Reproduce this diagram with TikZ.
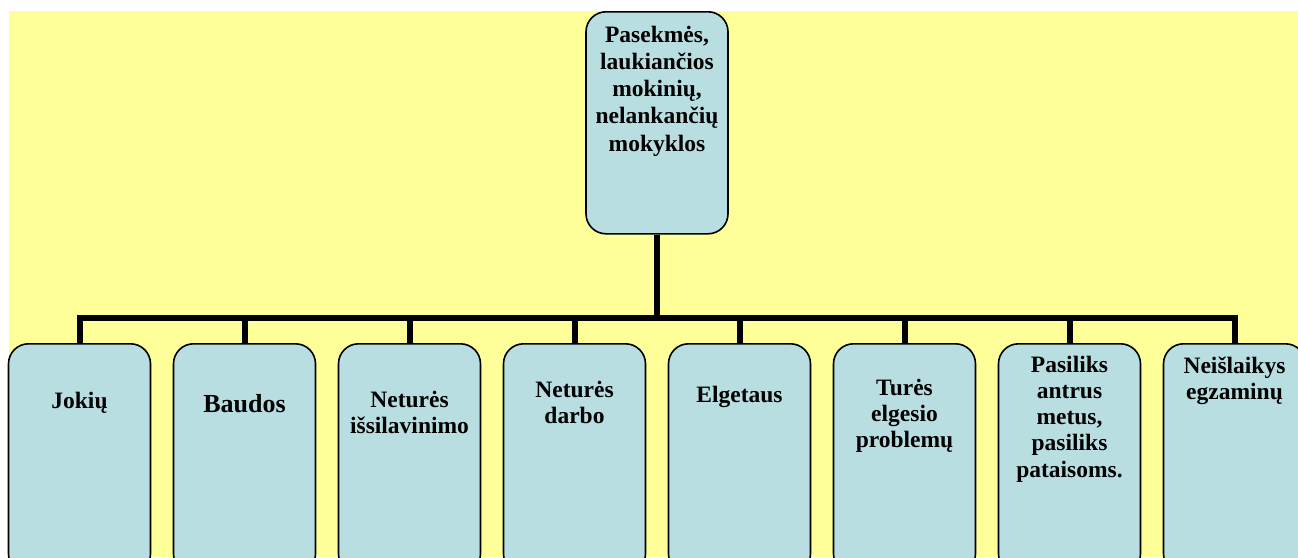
\documentclass[tikz,border=0pt]{standalone}
\usepackage{fontspec}
\setmainfont{Liberation Serif}
\definecolor{bgyellow}{RGB}{255,255,153}
\definecolor{boxblue}{RGB}{184,222,226}
\begin{document}
\begin{tikzpicture}[x=1pt,y=-1pt,
  box/.style={draw=black, line width=1.6pt, fill=boxblue, rounded corners=20pt,
    minimum width=142pt, inner sep=0pt, anchor=north},
  conn/.style={line width=6pt, draw=black, line join=miter},
  lbl/.style={anchor=base, text width=140pt, align=center, inner sep=0pt,
    font=\bfseries\fontsize{23.5}{26.3}\selectfont}]
\useasboundingbox (0,0) rectangle (1298,557);
\fill[bgyellow] (9,11) rectangle (1298,557);
% boxes
\node[box, minimum height=222pt] (top) at (657,11) {};
\foreach \i/\x in {1/79.5,2/244.5,3/409.5,4/574.5,5/739.5,6/904.5,7/1069.5,8/1234.5}
  \node[box, minimum height=230pt] (b\i) at (\x,343) {};
% connectors
\coordinate (bar) at (657,318);
\draw[conn] (top.south) -- (top.south |- bar);
\draw[conn] (b1.north) |- (bar) -| (b8.north);
\foreach \i in {2,...,7}
  \draw[conn] (b\i.north) -- (b\i.north |- bar);
% labels
\node[lbl, font=\bfseries\fontsize{23.5}{27.3}\selectfont] (t0) at (657,42) {Pasekmės,\\laukiančios\\mokinių,\\nelankančių\\mokyklos};
\node[lbl] (t1) at (79.5,408) {Jokių};
\node[lbl, font=\bfseries\fontsize{26}{29}\selectfont] (t2) at (244.5,412) {Baudos};
\node[lbl] (t3) at (409.5,407) {Neturės\\išsilavinimo};
\node[lbl] (t4) at (574.5,397) {Neturės\\darbo};
\node[lbl] (t5) at (739.5,402) {Elgetaus};
\node[lbl] (t6) at (904.5,395) {Turės\\elgesio\\problemų};
\node[lbl] (t7) at (1069.5,372) {Pasiliks\\antrus\\metus,\\pasiliks\\pataisoms.};
\node[lbl] (t8) at (1234.5,373) {Neišlaikys\\egzaminų};
\end{tikzpicture}
\end{document}
